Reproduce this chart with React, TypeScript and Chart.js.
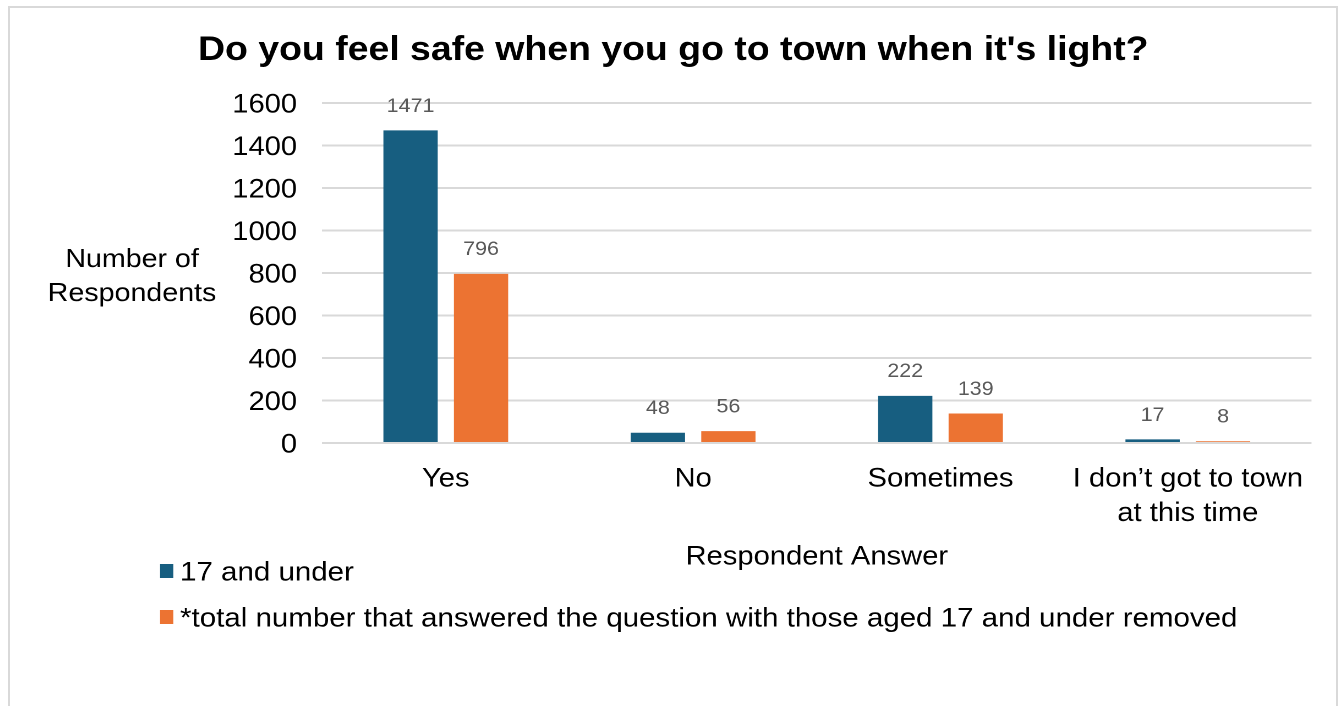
import React, { useEffect, useRef } from "react";
import { Chart, registerables } from "chart.js";

Chart.register(...registerables);

const TITLE = "Do you feel safe when you go to town when it's light?";
const CATEGORIES: (string | string[])[] = ["Yes", "No", "Sometimes", ["I don\u2019t got to town", "at this time"]];
const SERIES_NAMES = ["17 and under", "*total number that answered the question with those aged 17 and under removed"];
const UNDER_17 = [1471, 48, 222, 17];
const OTHERS = [796, 56, 139, 8];
const Y_TICKS = [0, 200, 400, 600, 800, 1000, 1200, 1400, 1600];
const Y_TITLE = ["Number of", "Respondents"];
const X_TITLE = "Respondent Answer";
const COLORS = ["#175E80", "#EC7332"];

const FONT = "'Liberation Sans', Arial, sans-serif";
const STRETCH = 1.1;
const CANVAS_W = 1326;
const CANVAS_H = 698;
const LOGICAL_W = Math.round(CANVAS_W / STRETCH);
const lx = (pageX: number) => (pageX - 10) / STRETCH;
const ly = (pageY: number) => pageY - 8;

const decorPlugin = {
  id: "decor",
  afterDatasetsDraw(chart: any) {
    const ctx = chart.ctx;
    ctx.save();
    ctx.font = `19.5px ${FONT}`;
    ctx.fillStyle = "#595959";
    ctx.textAlign = "center";
    ctx.textBaseline = "middle";
    chart.data.datasets.forEach((ds: any, di: number) => {
      const meta = chart.getDatasetMeta(di);
      meta.data.forEach((bar: any, i: number) => {
        ctx.fillText(String(ds.data[i]), bar.x, bar.y - 24);
      });
    });
    ctx.restore();
  },
  afterDraw(chart: any) {
    const ctx = chart.ctx;
    const area = chart.chartArea;
    ctx.save();
    ctx.fillStyle = "#000";
    ctx.font = `bold 34px ${FONT}`;
    ctx.textAlign = "center";
    ctx.textBaseline = "alphabetic";
    ctx.fillText(TITLE, lx(673), ly(60));
    ctx.textBaseline = "middle";
    ctx.font = `26px ${FONT}`;
    ctx.fillText(Y_TITLE[0], lx(132), ly(260));
    ctx.fillText(Y_TITLE[1], lx(132), ly(294));
    ctx.font = `26.5px ${FONT}`;
    ctx.fillText(X_TITLE, (area.left + area.right) / 2, ly(557));
    ctx.textAlign = "left";
    const rows = [573, 619];
    ctx.font = `26.8px ${FONT}`;
    SERIES_NAMES.forEach((name, i) => {
      ctx.fillStyle = COLORS[i];
      ctx.fillRect(lx(160), ly(rows[i]) - 9, 12, 14);
      ctx.fillStyle = "#000";
      ctx.fillText(name, lx(180), ly(rows[i]));
    });
    ctx.restore();
  },
};

export default function App() {
  const ref = useRef<HTMLCanvasElement | null>(null);
  useEffect(() => {
    if (!ref.current) return;
    const chartLeft = lx(322);
    const chartRight = lx(1311);
    const chartTop = ly(103);
    const chartBottom = ly(443);
    const xAxisH = 90;
    const chart = new Chart(ref.current, {
      type: "bar",
      data: {
        labels: CATEGORIES as any,
        datasets: [
          { label: SERIES_NAMES[0], data: UNDER_17, backgroundColor: COLORS[0], categoryPercentage: 0.57, barPercentage: 0.77 },
          { label: SERIES_NAMES[1], data: OTHERS, backgroundColor: COLORS[1], categoryPercentage: 0.57, barPercentage: 0.77 },
        ],
      },
      options: {
        animation: false,
        responsive: false,
        maintainAspectRatio: false,
        devicePixelRatio: 2,
        layout: { padding: { top: chartTop, left: 0, right: LOGICAL_W - chartRight, bottom: CANVAS_H - chartBottom - xAxisH } },
        plugins: { legend: { display: false }, title: { display: false }, tooltip: { enabled: false } },
        scales: {
          x: {
            grid: { display: false, drawTicks: false },
            border: { display: false },
            ticks: { color: "#000", font: { family: FONT, size: 26.5, lineHeight: 1.3 }, padding: 19, maxRotation: 0, autoSkip: false },
            afterFit: (s: any) => { s.height = xAxisH; },
          },
          y: {
            min: 0,
            max: 1600,
            afterBuildTicks: (s: any) => { s.ticks = Y_TICKS.map((v) => ({ value: v })); },
            grid: { color: "#d9d9d9", lineWidth: 2, drawTicks: false },
            border: { display: false },
            ticks: { color: "#000", font: { family: FONT, size: 26.5 }, padding: chartLeft - lx(297), labelOffset: 2, callback: (v: any) => String(v) },
            afterFit: (s: any) => { s.width = chartLeft; },
          },
        },
      },
      plugins: [decorPlugin],
    });
    return () => chart.destroy();
  }, []);
  return (
    <div style={{ position: "absolute", left: 8, top: 6, width: 1330, height: 720, boxSizing: "border-box", border: "2px solid #d9d9d9", background: "#fff" }}>
      <canvas ref={ref} width={LOGICAL_W} height={CANVAS_H} style={{ display: "block", width: CANVAS_W + "px", height: CANVAS_H + "px" }} />
    </div>
  );
}
